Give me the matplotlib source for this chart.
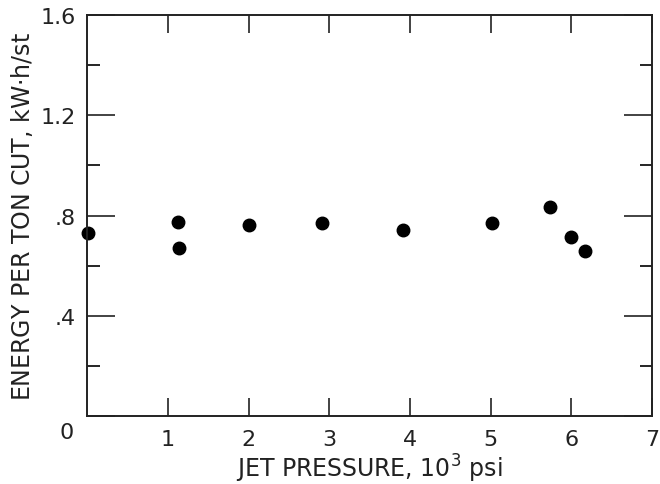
import numpy as np
import matplotlib
matplotlib.use("Agg")
import matplotlib.pyplot as plt
import matplotlib.transforms as mtransforms
from matplotlib.ticker import MultipleLocator

matplotlib.rcParams['font.family'] = 'DejaVu Sans'
matplotlib.rcParams['font.size'] = 14

# jet pressure (10^3 psi) and energy per ton cut (kW-h/st)
pressure = [0.01, 1.12, 1.14, 2.0, 2.91, 3.92, 5.02, 5.74, 5.99, 6.17]
energy = [0.730, 0.774, 0.670, 0.762, 0.770, 0.742, 0.770, 0.834, 0.714, 0.658]

x_ticks = [1, 2, 3, 4, 5, 6, 7]
y_ticks = [0, 0.4, 0.8, 1.2, 1.6]
y_labels = ["0", ".4", ".8", "1.2", "1.6"]

fig = plt.figure(figsize=(6.6, 4.85), dpi=100)
ax = fig.add_axes([0.132, 0.140, 0.856, 0.827])

ax.plot(pressure, energy, 'o', color="black", markersize=9, clip_on=False)

ax.set_xlim(0, 7)
ax.set_ylim(0, 1.6)
ax.set_xticks(x_ticks)
ax.set_yticks(y_ticks)
ax.set_yticklabels(y_labels)
ax.yaxis.set_minor_locator(MultipleLocator(0.2))

ax.tick_params(axis='x', which='major', direction='in', length=13, width=1.2,
               top=True, pad=9, labelsize=16, colors="#222222")
ax.tick_params(axis='y', which='major', direction='in', length=20, width=1.2,
               right=True, pad=8, labelsize=16, colors="#222222")
ax.tick_params(axis='y', which='minor', direction='in', length=9, width=1.2,
               right=True)

# the shared origin "0" sits below the corner, as in the original figure
zero_lab = ax.get_yticklabels()[0]
zero_lab.set_transform(zero_lab.get_transform() +
                       mtransforms.ScaledTranslation(-0.02, -0.14,
                                                     fig.dpi_scale_trans))

for s in ax.spines.values():
    s.set_linewidth(1.4)
    s.set_color("#222222")

ax.set_xlabel("JET PRESSURE, 10$^3$ psi", fontsize=17, color="#222222",
              labelpad=2)
ax.set_ylabel("ENERGY PER TON CUT, kW$\\cdot$h/st", fontsize=17,
              color="#222222", labelpad=4)

fig.savefig("out.png", dpi=100)
